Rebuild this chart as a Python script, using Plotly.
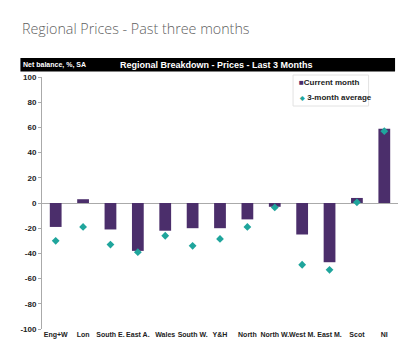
import plotly.graph_objects as go

regions = ["Eng+W", "Lon", "South E.", "East A.", "Wales", "South W.", "Y&H",
           "North", "North W.", "West M.", "East M.", "Scot", "NI"]
current_month = [-19, 3, -21, -38, -22, -20, -20, -13, -3, -25, -47, 4, 59]
three_month_avg = [-30, -19, -33, -39, -26, -34, -28.5, -19, -3.5, -49, -53, 0.5, 57]
y_ticks = [100, 80, 60, 40, 20, 0, -20, -40, -60, -80, -100]

BAR_COLOR = "#4b2e6b"
DOT_COLOR = "#1fa59c"

W, H = 411, 359
ml, mr, mt, mb = 27, 21, 69, 38
pw, ph = W - ml - mr, H - mt - mb

def px_x(x):
    return (x - ml) / pw

def px_y(y):
    return 1 + (mt - y) / ph

FAM = "Liberation Sans Narrow, Arial Narrow, Liberation Sans, Arial"
tick_font = dict(family=FAM, size=7, color="#222", weight="bold")

fig = go.Figure()
fig.add_trace(go.Bar(
    x=regions, y=current_month, name="Current month",
    marker=dict(color=BAR_COLOR, line=dict(width=0)),
))
fig.add_trace(go.Scatter(
    x=regions, y=three_month_avg, name="3-month average", mode="markers",
    marker=dict(symbol="diamond", size=6, color=DOT_COLOR),
))

fig.update_layout(
    width=W, height=H,
    margin=dict(l=ml, r=mr, t=mt, b=mb),
    paper_bgcolor="white", plot_bgcolor="white",
    bargap=0.57,
    showlegend=False,
    xaxis=dict(
        showgrid=False, showline=False, ticks="", tickfont=tick_font,
        tickangle=0, range=[-0.5, 12.5],
    ),
    yaxis=dict(
        range=[-100, 100], tickvals=y_ticks, ticktext=[str(v) for v in y_ticks],
        showgrid=False, zeroline=True, zerolinecolor="#aaaaaa", zerolinewidth=1,
        showline=True, linecolor="#aaaaaa", linewidth=1,
        ticks="outside", ticklen=3, tickcolor="#aaaaaa",
        tickfont=dict(family=FAM, size=8, color="#222", weight="bold"),
    ),
    shapes=[
        dict(type="rect", xref="paper", yref="paper",
             x0=px_x(5), x1=px_x(387), y0=px_y(63.5), y1=px_y(50),
             fillcolor="black", line=dict(width=0), layer="above"),
        dict(type="rect", xref="paper", yref="paper",
             x0=px_x(283), x1=px_x(360), y0=px_y(98), y1=px_y(67),
             fillcolor="white", line=dict(color="#e2e2e2", width=1), layer="above"),
    ],
    annotations=[
        dict(text="Regional Prices - Past three months", xref="paper", yref="paper",
             x=px_x(5), y=px_y(20), xanchor="left", yanchor="middle", showarrow=False,
             font=dict(family="Open Sans", size=14.3, color="#5f5f5f", weight=300)),
        dict(text="Net balance, %, SA", xref="paper", yref="paper",
             x=px_x(6), y=px_y(56.8), xanchor="left", yanchor="middle", showarrow=False,
             font=dict(family=FAM, size=7, color="white", weight="bold")),
        dict(text="Regional Breakdown - Prices - Last 3 Months", xref="paper", yref="paper",
             x=px_x(205), y=px_y(56.8), xanchor="center", yanchor="middle", showarrow=False,
             font=dict(family=FAM, size=9, color="white", weight="bold")),
        dict(text=f"<span style='color:{BAR_COLOR}'>■</span>Current month",
             xref="paper", yref="paper",
             x=px_x(287), y=px_y(74.5), xanchor="left", yanchor="middle", showarrow=False,
             font=dict(family=FAM, size=8, color="#222", weight="bold")),
        dict(text=f"<span style='color:{DOT_COLOR};font-size:6px'>◆</span> 3-month average",
             xref="paper", yref="paper",
             x=px_x(287), y=px_y(89.5), xanchor="left", yanchor="middle", showarrow=False,
             font=dict(family=FAM, size=8, color="#222", weight="bold")),
    ],
)

fig.write_html("out.html")
